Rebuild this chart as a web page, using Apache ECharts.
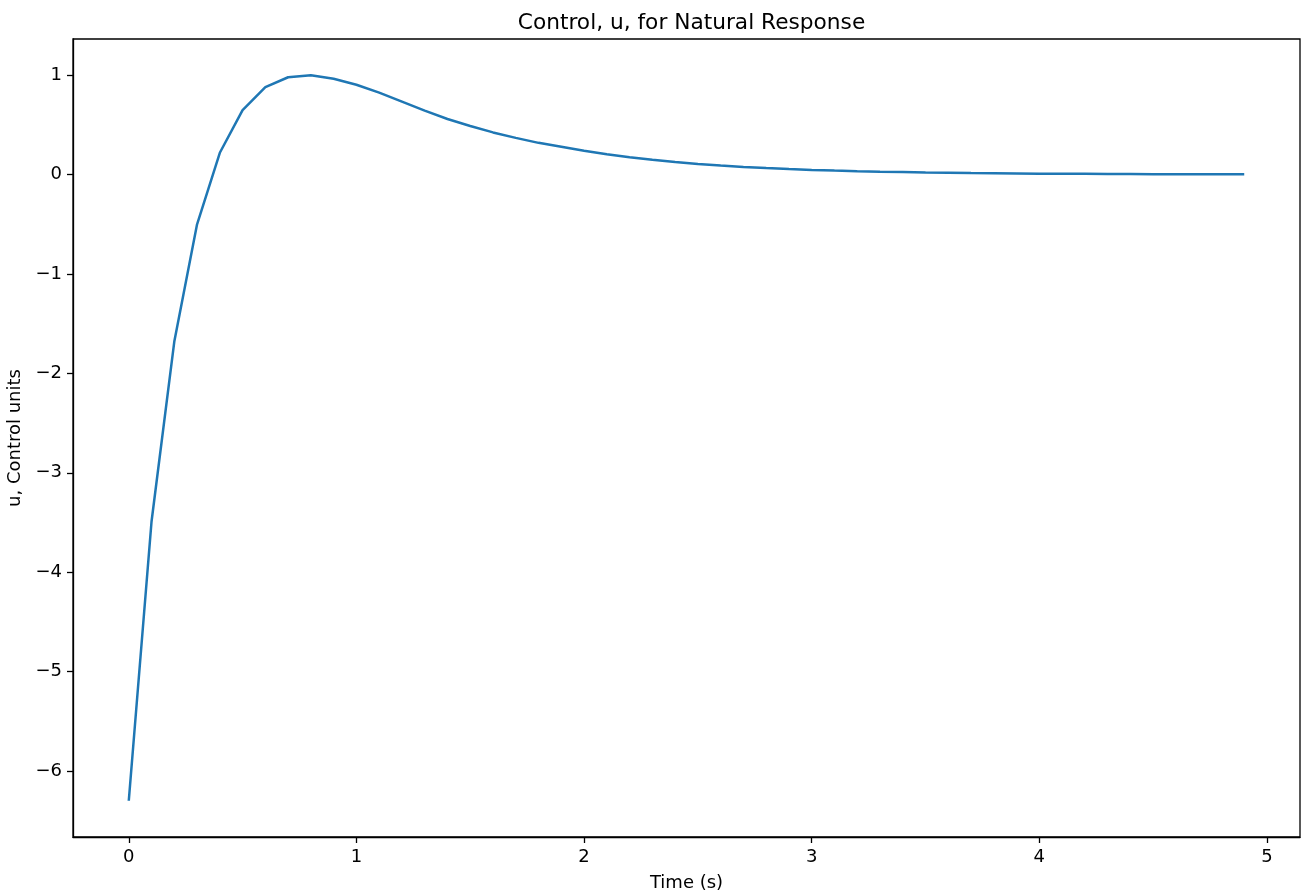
<!DOCTYPE html>
<html>
<head>
<meta charset="utf-8">
<title>Control, u, for Natural Response</title>
<script src="https://cdn.jsdelivr.net/npm/echarts@6/dist/echarts.min.js"></script>
<style>
  html, body { margin: 0; padding: 0; background: #ffffff; }
  #chart { width: 1309px; height: 892px; }
</style>
</head>
<body>
<div id="chart"></div>
<script>
// Sample times (s), 0.1 s steps
var timeValues = [
  0.0, 0.1, 0.2, 0.3, 0.4, 0.5, 0.6, 0.7, 0.8, 0.9,
  1.0, 1.1, 1.2, 1.3, 1.4, 1.5, 1.6, 1.7, 1.8, 1.9,
  2.0, 2.1, 2.2, 2.3, 2.4, 2.5, 2.6, 2.7, 2.8, 2.9,
  3.0, 3.1, 3.2, 3.3, 3.4, 3.5, 3.6, 3.7, 3.8, 3.9,
  4.0, 4.1, 4.2, 4.3, 4.4, 4.5, 4.6, 4.7, 4.8, 4.9
];

// Control effort u at each sample time
var controlValues = [
  -6.30, -3.49, -1.68, -0.50, 0.22, 0.65, 0.88, 0.98, 1.00, 0.965,
  0.905, 0.825, 0.735, 0.645, 0.56, 0.49, 0.425, 0.37, 0.32, 0.28,
  0.24, 0.205, 0.175, 0.15, 0.128, 0.108, 0.092, 0.078, 0.066, 0.056,
  0.048, 0.041, 0.035, 0.030, 0.026, 0.022, 0.019, 0.016, 0.014, 0.012,
  0.010, 0.009, 0.008, 0.007, 0.006, 0.005, 0.004, 0.004, 0.003, 0.003
];

// Tick positions
var xTicks = [0, 1, 2, 3, 4, 5];
var yTicks = [-6, -5, -4, -3, -2, -1, 0, 1];

var seriesData = timeValues.map(function (t, i) { return [t, controlValues[i]]; });

// Typographic minus for negative tick labels
function fmt(v) {
  return String(v).replace('-', '\u2212');
}

var font = 'DejaVu Sans';
var chart = echarts.init(document.getElementById('chart'), null, { renderer: 'canvas' });

chart.setOption({
  animation: false,
  backgroundColor: '#ffffff',
  title: {
    text: 'Control, u, for Natural Response',
    left: 686.5,
    top: 7,
    textAlign: 'center',
    textStyle: { fontFamily: font, fontSize: 21.7, fontWeight: 'normal', color: '#000' }
  },
  grid: {
    left: 73, right: 9, top: 39, bottom: 55,
    outerBoundsMode: 'none',
    containLabel: false,
    show: true, borderColor: '#000', borderWidth: 1.3, backgroundColor: 'transparent'
  },
  xAxis: {
    type: 'value',
    min: -0.245,
    max: 5.145,
    name: 'Time (s)',
    nameLocation: 'middle',
    nameGap: 37,
    nameTextStyle: { fontFamily: font, fontSize: 18, color: '#000' },
    axisLine: { show: true, onZero: false, lineStyle: { color: '#000', width: 1.3 } },
    axisTick: { show: true, inside: false, length: 6, customValues: xTicks, lineStyle: { color: '#000', width: 1.3 } },
    axisLabel: { customValues: xTicks, margin: 11, fontFamily: font, fontSize: 18, color: '#000', formatter: fmt },
    splitLine: { show: false }
  },
  yAxis: {
    type: 'value',
    min: -6.665,
    max: 1.365,
    name: 'u, Control units',
    nameLocation: 'middle',
    nameGap: 41,
    nameRotate: 90,
    nameTextStyle: { fontFamily: font, fontSize: 18, color: '#000' },
    axisLine: { show: true, onZero: false, lineStyle: { color: '#000', width: 1.3 } },
    axisTick: { show: true, inside: false, length: 6, customValues: yTicks, lineStyle: { color: '#000', width: 1.3 } },
    axisLabel: { customValues: yTicks, margin: 11, fontFamily: font, fontSize: 18, color: '#000', formatter: fmt },
    splitLine: { show: false }
  },
  series: [{
    type: 'line',
    data: seriesData,
    showSymbol: false,
    smooth: false,
    lineStyle: { color: '#1f77b4', width: 2.5 },
    itemStyle: { color: '#1f77b4' }
  }]
});
</script>
</body>
</html>
